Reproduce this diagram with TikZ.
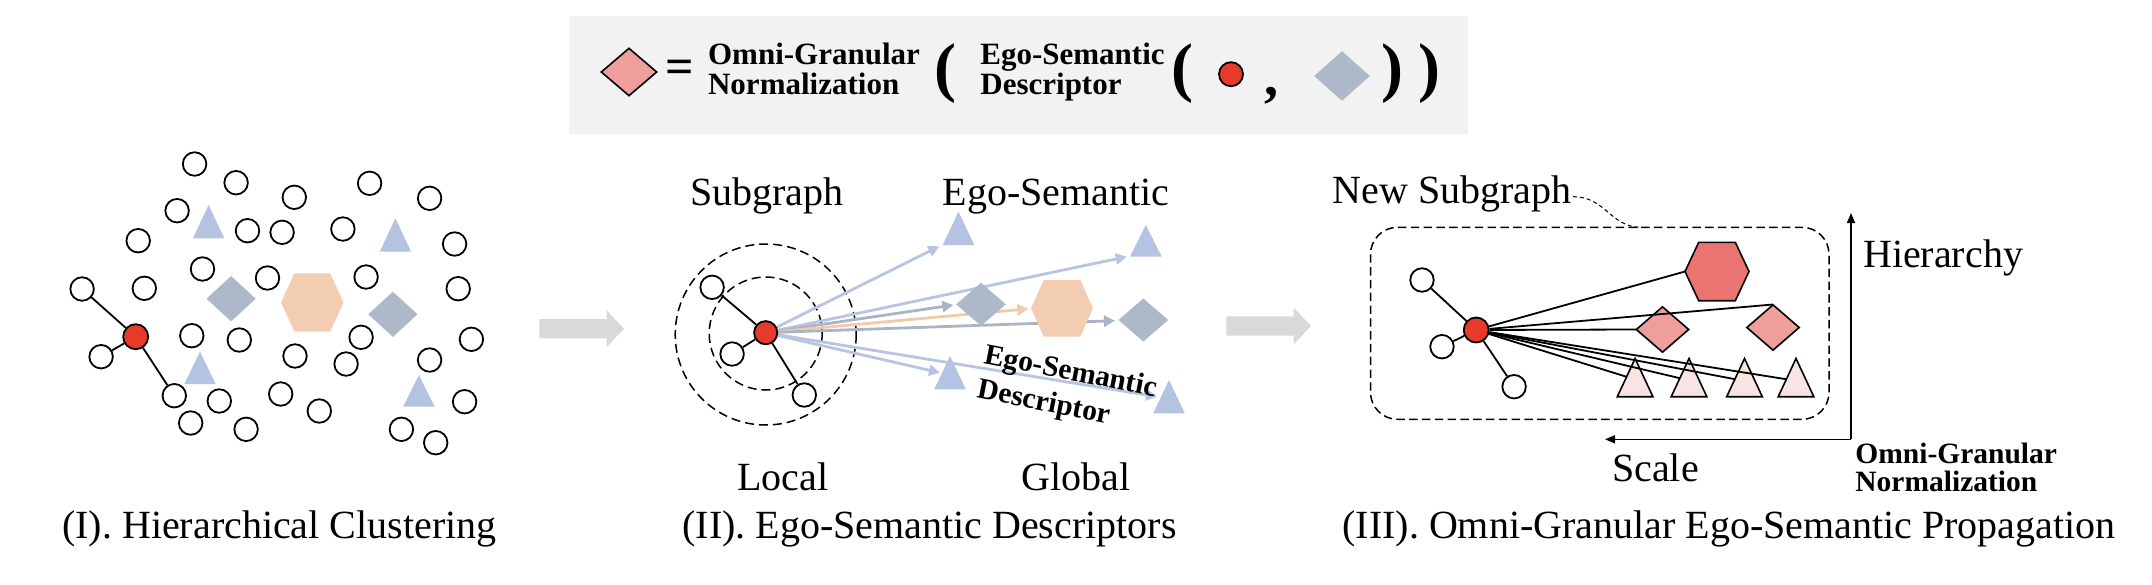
\documentclass[tikz,border=0pt]{standalone}
\usepackage{fontspec}
\setmainfont{Liberation Serif}
\usetikzlibrary{shapes.geometric,arrows.meta}
\definecolor{triblue}{HTML}{B4C3E1}
\definecolor{diagray}{HTML}{ADB8C8}
\definecolor{peach}{HTML}{F2CDB1}
\definecolor{nodered}{HTML}{E63B2A}
\definecolor{hexred}{HTML}{EC7470}
\definecolor{diapink}{HTML}{EE9E9B}
\definecolor{tripink}{HTML}{F9E4E4}
\definecolor{arrowgray}{HTML}{D9D9D9}
\definecolor{boxgray}{HTML}{F2F2F2}
\definecolor{lineblue}{HTML}{B7C5E3}
\definecolor{linegray}{HTML}{A9B4C5}
\definecolor{lineorange}{HTML}{F2C9A9}
\pgfdeclarelayer{bg}
\pgfsetlayers{bg,main}
\newcommand{\trishape}[6]{\path[#6] (#2-#5,#4) -- (#2,#3) -- (#2+#5,#4) -- cycle; \coordinate (#1) at (#2,{(#3+#4)/2});}
\newcommand{\hexshape}[7]{\path[#7] (#2-#4,#3) -- (#2-#5,#3-#6) -- (#2+#5,#3-#6) -- (#2+#4,#3) -- (#2+#5,#3+#6) -- (#2-#5,#3+#6) -- cycle; \coordinate (#1) at (#2,#3);}
\newcommand{\grayarrow}[2]{\fill[arrowgray] (#1,#2-9.7) -- (#1+67.4,#2-9.7) -- (#1+67.4,#2-18.4) -- (#1+84.7,#2) -- (#1+67.4,#2+18.4) -- (#1+67.4,#2+9.7) -- (#1,#2+9.7) -- cycle;}
\newcommand{\twolines}[2]{\begin{tabular}[t]{@{}l@{}}#1\\#2\end{tabular}}
\begin{document}
\begin{tikzpicture}[x=0.5pt,y=-0.5pt,
  wn/.style={circle,draw=black,line width=0.9pt,fill=white,minimum size=11.75pt,inner sep=0pt},
  rn/.style={circle,draw=black,line width=0.9pt,fill=nodered,minimum size=12.5pt,inner sep=0pt},
  gdia/.style={diamond,fill=diagray,inner sep=0pt},
  pdia/.style={diamond,fill=diapink,draw=black,line width=0.8pt,inner sep=0pt},
  edge/.style={line width=0.9pt,draw=black},
  lbl/.style={font=\fontsize{20pt}{24pt}\selectfont,inner sep=0pt},
  blbl/.style={font=\fontsize{15.5pt}{14.8pt}\selectfont\bfseries,inner sep=0pt},
  slbl/.style={font=\fontsize{14.75pt}{13.2pt}\selectfont\bfseries,inner sep=0pt},
  rlbl/.style={font=\fontsize{14.75pt}{17.6pt}\selectfont\bfseries,inner sep=0pt},
  bigparen/.style={font=\fontsize{33pt}{36pt}\selectfont\bfseries,inner sep=0pt},
  barrow/.style={line width=1.4pt,-{Triangle[length=5.5pt,width=5.5pt]}},
  dcirc/.style={line width=0.75pt,dash pattern=on 4.5pt off 2.5pt},
  dbox/.style={line width=0.75pt,dash pattern=on 4.2pt off 2.2pt,rounded corners=13.5pt},
  leader/.style={line width=0.5pt,dash pattern=on 2pt off 1.5pt},
  axisline/.style={line width=0.8pt,-{Triangle[length=5pt,width=4pt]}}
]
\useasboundingbox (0,0) rectangle (2152,584);

% ---------- top formula box ----------
\fill[boxgray] (569,16) rectangle (1468,134);
\node[pdia, minimum width=28pt, minimum height=24pt] (fd) at (629,72) {};
\node[font=\fontsize{25pt}{30pt}\selectfont\bfseries, inner sep=0pt] (feq) at (679.5,71.7) {=};
\node[blbl, anchor=base west] (fo) at (707.7,64.6) {\twolines{Omni-Granular}{Normalization}};
\node[bigparen, anchor=base] (fp1) at (945,89) {(};
\node[blbl, anchor=base west] (fe) at (980,64.6) {\twolines{Ego-Semantic}{Descriptor}};
\node[bigparen, anchor=base] (fp2) at (1182.5,89) {(};
\node[rn, minimum size=12pt] (fr) at (1231,74.2) {};
\node[font=\fontsize{28pt}{30pt}\selectfont\bfseries, inner sep=0pt, anchor=base] (fc) at (1271,95) {,};
\node[gdia, minimum width=28pt, minimum height=25pt] (fg) at (1342,76) {};
\node[bigparen, anchor=base] (fp3) at (1392.5,89) {)};
\node[bigparen, anchor=base] (fp4) at (1429,89) {)};

% ---------- panel I ----------
\trishape{ta}{208.6}{205}{238.3}{15.7}{fill=triblue}
\trishape{tb}{395.4}{218.3}{251.7}{15.7}{fill=triblue}
\trishape{tc}{200}{351.7}{384}{15.7}{fill=triblue}
\trishape{td}{418.9}{375}{406.7}{15.7}{fill=triblue}
\node[gdia, minimum width=24.8pt, minimum height=22.8pt] (da) at (231.1,298.7) {};
\node[gdia, minimum width=24.8pt, minimum height=22.8pt] (db) at (392.9,314.3) {};
\hexshape{ha}{312.3}{302.5}{31.3}{17.8}{29.2}{fill=peach}
\foreach \n/\x/\y in {1/194.6/164, 2/236.1/182.7, 3/294.3/197.3, 4/369.6/183.3, 5/429.6/198.3,
  6/177.1/210.7, 7/247.5/230.7, 8/282.1/232.3, 9/342.9/229, 10/138.2/240.7, 11/454.6/244,
  12/202.5/269, 13/267.5/278, 14/366.1/277, 15/82.1/289, 16/144.3/288.3, 17/458.2/288.7,
  19/101.1/356.7, 20/191.8/335.7, 21/239.3/340, 22/361.1/337.3, 23/471.4/339.3, 24/295/356,
  25/346.1/364, 26/429.6/360, 27/174.3/395.7, 28/219.3/401, 29/280.7/394, 30/319.3/411,
  31/464.6/401.7, 32/190.7/423, 33/246.1/429.3, 34/401.4/429.3, 35/435.7/442.7}
  \node[wn] (c\n) at (\x,\y) {};
\node[rn] (r1) at (135.7,336.7) {};
\draw[edge] (r1) -- (c15);
\draw[edge] (r1) -- (c19);
\draw[edge] (r1) -- (c27);
\node[lbl, anchor=base west] (cap1) at (61.8,538) {(I). Hierarchical Clustering};

% ---------- gray arrows ----------
\grayarrow{539.3}{328.7}
\grayarrow{1226.3}{326}

% ---------- panel II ----------
\node[rn, minimum size=11.6pt] (r2) at (765.7,332.7) {};
\node[wn] (p2a) at (712.1,287.3) {};
\node[wn] (p2b) at (732.1,354) {};
\node[wn] (p2c) at (804.3,395) {};
\trishape{t1}{958.5}{211.7}{245}{15.8}{fill=triblue}
\trishape{t2}{1145.8}{225}{256.7}{15.8}{fill=triblue}
\trishape{t3}{950}{356}{389.3}{15.8}{fill=triblue}
\trishape{t4}{1169}{380}{413.3}{15.8}{fill=triblue}
\node[gdia, minimum width=25pt, minimum height=21.7pt] (d1) at (981,304.3) {};
\node[gdia, minimum width=25pt, minimum height=21.7pt] (d2) at (1143.3,320) {};
\hexshape{h2}{1062}{308.3}{31}{18.3}{28.3}{fill=peach}
\coordinate (k1) at (939.3,246.3);
\coordinate (k2) at (1126.7,256.7);
\coordinate (k3) at (953.3,305);
\coordinate (k4) at (1028.3,308.8);
\coordinate (k5) at (1115,320.7);
\coordinate (k6) at (940,372.7);
\coordinate (k7) at (1157.1,396.7);
\begin{pgfonlayer}{bg}
\draw[dcirc] (765.7,333.5) circle[radius=56.5];
\draw[dcirc] (765.7,334.5) circle[radius=90.5];
\draw[barrow, lineblue] (r2) -- (k1);
\draw[barrow, lineblue] (r2) -- (k2);
\draw[barrow, linegray] (r2) -- (k3);
\draw[barrow, lineorange] (r2) -- (k4);
\draw[barrow, linegray] (r2) -- (k5);
\draw[barrow, lineblue] (r2) -- (k6);
\draw[barrow, lineblue] (r2) -- (k7);
\end{pgfonlayer}
\draw[edge] (r2) -- (p2a);
\draw[edge] (r2) -- (p2b);
\draw[edge] (r2) -- (p2c);
\node[rlbl, rotate=-11, anchor=base west] (desc) at (982.9,363.3) {\twolines{Ego-Semantic}{Descriptor}};
\node[lbl, anchor=base] (sg) at (766.8,205) {Subgraph};
\node[lbl, anchor=base] (es) at (1056,205) {Ego-Semantic};
\node[lbl, anchor=base] (loc) at (782.9,490) {Local};
\node[lbl, anchor=base] (glo) at (1075.7,490) {Global};
\node[lbl, anchor=base west] (cap2) at (682,538) {(II). Ego-Semantic Descriptors};

% ---------- panel III ----------
\draw[dbox] (1370.5,227.3) rectangle (1829,419.3);
\node[lbl, anchor=base west] (ns) at (1332.5,203.3) {New Subgraph};
\coordinate (lead0) at (1573,196.7);
\coordinate (lead1) at (1641.5,227.3);
\draw[leader] (lead0) .. controls (1606,196.7) and (1610,227.3) .. (lead1);
\hexshape{h3}{1717}{271.5}{32}{18.3}{29.2}{fill=hexred,draw=black,line width=0.8pt}
\node[pdia, minimum width=26.5pt, minimum height=23pt] (dl) at (1662.5,329.5) {};
\node[pdia, minimum width=26.5pt, minimum height=23pt] (dr) at (1773,327.5) {};
\trishape{q1}{1635.1}{358.5}{396.7}{17.8}{fill=tripink,draw=black,line width=0.8pt}
\trishape{q2}{1689}{358.5}{396.7}{17.8}{fill=tripink,draw=black,line width=0.8pt}
\trishape{q3}{1744.5}{358.5}{396.7}{17.8}{fill=tripink,draw=black,line width=0.8pt}
\trishape{q4}{1796}{358.5}{396.7}{17.8}{fill=tripink,draw=black,line width=0.8pt}
\node[rn] (r3) at (1476.2,330) {};
\node[wn] (p3a) at (1422,280) {};
\node[wn] (p3b) at (1442,346.7) {};
\node[wn] (p3c) at (1514.1,386.7) {};
\draw[edge] (r3) -- (p3a);
\draw[edge] (r3) -- (p3b);
\draw[edge] (r3) -- (p3c);
\coordinate (e1) at (1685,271.5);
\coordinate (e2) at (1773,304.5);
\coordinate (e3) at (1636,329.5);
\coordinate (e4) at (1626.3,376.7);
\coordinate (e5) at (1680.3,378.3);
\coordinate (e6) at (1735.5,379.3);
\coordinate (e7) at (1786.8,379.3);
\foreach \e in {e1,e2,e3,e4,e5,e6,e7} \draw[edge] (r3) -- (\e);
\coordinate (ax0) at (1851,439.3);
\coordinate (axup) at (1851,213);
\coordinate (axleft) at (1605,439.3);
\draw[axisline] (ax0) -- (axup);
\draw[axisline] (ax0) -- (axleft);
\node[lbl, anchor=base west] (hier) at (1862.7,267.3) {Hierarchy};
\node[lbl, anchor=base west] (scl) at (1611.7,481.7) {Scale};
\node[slbl, anchor=base west] (on) at (1855,463.3) {\twolines{Omni-Granular}{Normalization}};
\node[lbl, anchor=base west] (cap3) at (1342,538) {(III). Omni-Granular Ego-Semantic Propagation};
\end{tikzpicture}
\end{document}
